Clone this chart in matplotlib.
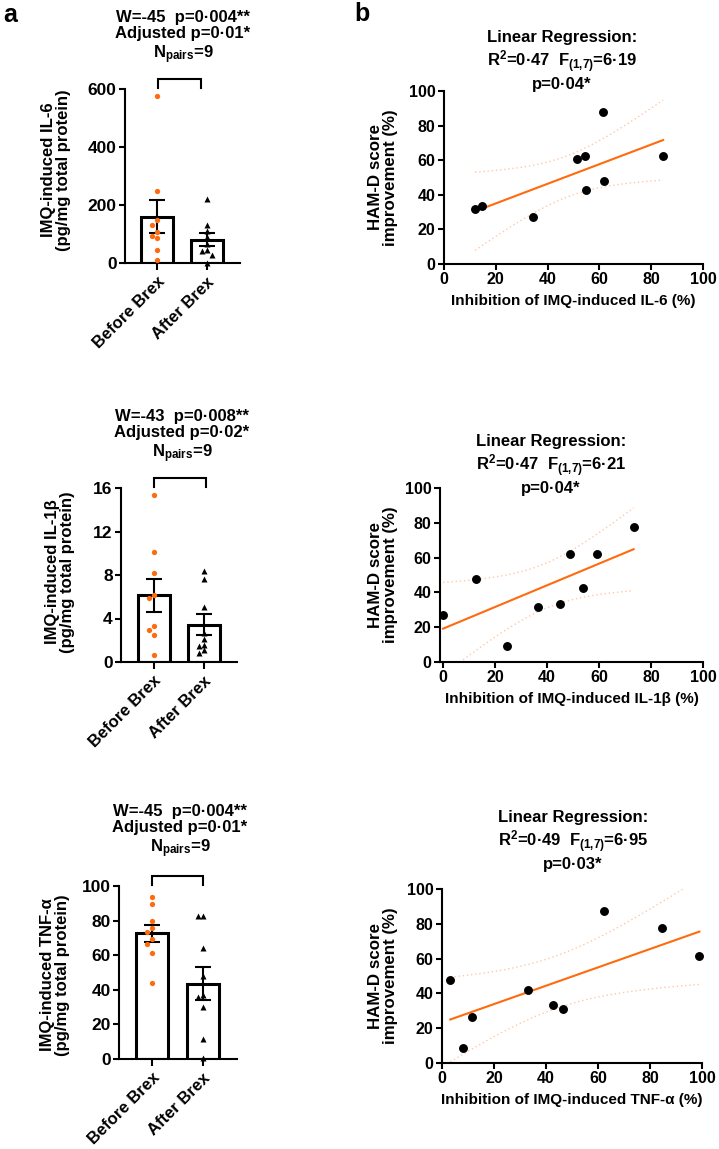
import numpy as np
import matplotlib
matplotlib.use("Agg")
import matplotlib.pyplot as plt

# --- data ---
groups = ["Before Brex", "After Brex"]

il6_before = [575, 247, 147, 132, 106, 94, 86, 45, 11]
il6_after = [221, 130, 109, 90, 65, 45, 40, 28, 0]
il1b_before = [15.4, 10.1, 8.2, 6.2, 5.9, 3.3, 2.9, 2.5, 0.6]
il1b_after = [8.4, 7.6, 5.1, 2.7, 2.1, 1.6, 1.5, 1.1, 0.8]
tnf_before = [93.4, 89.8, 79.8, 75.7, 73.6, 69.2, 66.5, 61.5, 44.1]
tnf_after = [82.7, 82.7, 64.0, 48.0, 37.0, 35.6, 30.2, 11.3, 0.4]

il6_inhib = [12.0, 14.5, 34.4, 51.4, 54.4, 55.0, 61.4, 61.7, 84.6]
il6_hamd = [31.9, 33.8, 27.1, 60.5, 62.4, 42.6, 87.9, 48.2, 62.2]
il1b_inhib = [0.0, 12.8, 24.7, 36.5, 44.9, 49.0, 53.8, 59.2, 73.3]
il1b_hamd = [26.8, 47.9, 9.0, 31.8, 33.5, 62.1, 42.3, 62.1, 77.6]
tnf_inhib = [3.2, 7.9, 11.7, 32.9, 42.7, 46.5, 62.2, 84.7, 99.0]
tnf_hamd = [47.7, 8.7, 26.5, 41.9, 33.3, 31.3, 87.5, 77.3, 61.7]

bar_titles = [
    "W=-45  p=0·004**\nAdjusted p=0·01*\nN$_{pairs}$=9",
    "W=-43  p=0·008**\nAdjusted p=0·02*\nN$_{pairs}$=9",
    "W=-45  p=0·004**\nAdjusted p=0·01*\nN$_{pairs}$=9",
]
bar_ylabels = [
    "IMQ-induced IL-6\n(pg/mg total protein)",
    "IMQ-induced IL-1β\n(pg/mg total protein)",
    "IMQ-induced TNF-α\n(pg/mg total protein)",
]
bar_yticks = [[0, 200, 400, 600], [0, 4, 8, 12, 16], [0, 20, 40, 60, 80, 100]]

reg_titles = [
    "Linear Regression:\nR$^{2}$=0·47  F$_{(1{,}7)}$=6·19\np=0·04*",
    "Linear Regression:\nR$^{2}$=0·47  F$_{(1{,}7)}$=6·21\np=0·04*",
    "Linear Regression:\nR$^{2}$=0·49  F$_{(1{,}7)}$=6·95\np=0·03*",
]
reg_xlabels = [
    "Inhibition of IMQ-induced IL-6 (%)",
    "Inhibition of IMQ-induced IL-1β (%)",
    "Inhibition of IMQ-induced TNF-α (%)",
]

ORANGE = "#FF6A0D"
BAND = "#FFC8A6"
T975_DF7 = 2.3646
FS_TITLE = 12
FS_LABEL = 12
FS_XLAB_B = 11
FS_YLAB_B = 12.2
FS_TICK_A = 12.5
FS_TICK_B = 11.5

plt.rcParams["font.family"] = ["Liberation Sans", "DejaVu Sans"]
plt.rcParams["font.weight"] = "bold"
plt.rcParams["axes.labelweight"] = "bold"
plt.rcParams["mathtext.fontset"] = "custom"
plt.rcParams["mathtext.rm"] = "Liberation Sans:bold"
plt.rcParams["mathtext.it"] = "Liberation Sans:bold"
plt.rcParams["mathtext.bf"] = "Liberation Sans:bold"
plt.rcParams["mathtext.default"] = "rm"

W, H = 719, 1149
fig = plt.figure(figsize=(W / 100, H / 100), dpi=100)


def rect(x0, y_top, x1, y_bot):
    return [x0 / W, 1 - y_bot / H, (x1 - x0) / W, (y_bot - y_top) / H]


def style_axes(ax, tick_size):
    for side in ("top", "right"):
        ax.spines[side].set_visible(False)
    for side in ("left", "bottom"):
        ax.spines[side].set_linewidth(1.5)
    ax.tick_params(width=1.5, length=4, pad=2, labelsize=tick_size)


def bold_ticks(ax):
    for lbl in ax.get_xticklabels() + ax.get_yticklabels():
        lbl.set_fontweight("bold")


def swarm(values, ppu_y, ppu_x=50.0, size=5.0, step=0.1):
    """Simple beeswarm offsets so that close points don't overlap."""
    order = np.argsort(values)[::-1]
    offs = np.zeros(len(values))
    placed = []
    for i in order:
        for cand in (0, -step, step, -2 * step, 2 * step):
            ok = True
            for j in placed:
                d = np.hypot((cand - offs[j]) * ppu_x, (values[i] - values[j]) * ppu_y)
                if d < size:
                    ok = False
                    break
            if ok:
                offs[i] = cand
                break
        placed.append(i)
    return offs


bar_data = [(il6_before, il6_after), (il1b_before, il1b_after), (tnf_before, tnf_after)]
bar_rects = [(125, 89, 240, 263), (121, 488, 237, 662), (119, 886, 237, 1059)]
title_pos = [(183, 38), (182, 437), (180, 832)]
ylabel_pos = [(56, 170), (60, 572), (55, 975)]
bracket_x = [(0.02, 0.88), (0.0, 1.05), (0.0, 1.0)]

for k in range(3):
    before, after = (np.array(v, dtype=float) for v in bar_data[k])
    r = bar_rects[k]
    ax = fig.add_axes(rect(*r))
    top = bar_yticks[k][-1]
    ax.set_ylim(0, top)
    ax.set_xlim(-0.65, 1.67)
    ppu_y = (r[3] - r[1]) / top
    for gi, vals in enumerate((before, after)):
        mean = vals.mean()
        sem = vals.std(ddof=1) / np.sqrt(len(vals))
        ax.bar(gi, mean, width=0.64, facecolor="white", edgecolor="black",
               linewidth=2.2, zorder=1)
        ax.errorbar(gi, mean, yerr=sem, color="black", elinewidth=1.5,
                    capsize=5.5, capthick=1.5, zorder=2)
        offs = swarm(vals, ppu_y)
        if gi == 0:
            ax.plot(gi + offs, vals, "o", color=ORANGE, ms=3.8, mec="none",
                    zorder=3, clip_on=False)
        else:
            ax.plot(gi + offs, vals, "^", color="black", ms=4.0, mec="none",
                    zorder=3, clip_on=False)
    # bracket
    b_top = top + 10 / ppu_y
    b_leg = top + 1 / ppu_y
    x0, x1 = bracket_x[k]
    ax.plot([x0, x0, x1, x1], [b_leg, b_top, b_top, b_leg], color="black",
            lw=1.5, clip_on=False, solid_joinstyle="miter")
    style_axes(ax, FS_TICK_A)
    ax.set_yticks(bar_yticks[k])
    ax.set_xticks([0, 1])
    ax.set_xticklabels(groups, rotation=45, ha="right", rotation_mode="anchor",
                       fontsize=FS_LABEL)
    ax.tick_params(axis="x", length=5, pad=3)
    bold_ticks(ax)
    tx, ty = title_pos[k]
    fig.text(tx / W, 1 - ty / H, bar_titles[k], ha="center", va="center",
             linespacing=1.15, fontsize=FS_TITLE, fontweight="bold")
    lx, ly = ylabel_pos[k]
    fig.text(lx / W, 1 - ly / H, bar_ylabels[k], rotation=90, ha="center",
             va="center", multialignment="center", linespacing=1.05,
             fontsize=FS_LABEL, fontweight="bold")

reg_data = [(il6_inhib, il6_hamd), (il1b_inhib, il1b_hamd), (tnf_inhib, tnf_hamd)]
reg_rects = [(444, 91, 703, 264), (440, 488, 703, 662), (442, 889, 702, 1063)]
reg_xmin = [0, -1.2, 0]
reg_title_pos = [(562, 61), (551, 465), (573, 841)]

for k in range(3):
    x, y = (np.array(v, dtype=float) for v in reg_data[k])
    ax = fig.add_axes(rect(*reg_rects[k]))
    ax.set_xlim(reg_xmin[k], 100)
    ax.set_ylim(0, 100)
    slope, icpt = np.polyfit(x, y, 1)
    xs = np.linspace(x.min(), x.max(), 100)
    fit = icpt + slope * xs
    n = len(x)
    resid = y - (icpt + slope * x)
    s = np.sqrt(np.sum(resid ** 2) / (n - 2))
    sxx = np.sum((x - x.mean()) ** 2)
    half = T975_DF7 * s * np.sqrt(1 / n + (xs - x.mean()) ** 2 / sxx)
    ax.plot(xs, fit + half, ls=(0, (1, 2)), color=BAND, lw=1.0, zorder=1)
    ax.plot(xs, fit - half, ls=(0, (1, 2)), color=BAND, lw=1.0, zorder=1)
    ax.plot(xs, fit, color=ORANGE, lw=1.5, zorder=2)
    ax.plot(x, y, "o", color="black", ms=5.4, zorder=3, clip_on=False)
    style_axes(ax, FS_TICK_B)
    ax.set_xticks([0, 20, 40, 60, 80, 100])
    ax.set_yticks([0, 20, 40, 60, 80, 100])
    bold_ticks(ax)
    ax.set_xlabel(reg_xlabels[k], labelpad=5, fontsize=FS_XLAB_B, fontweight="bold")
    tx, ty = reg_title_pos[k]
    fig.text(tx / W, 1 - ty / H, reg_titles[k], ha="center", va="center",
             linespacing=1.15, fontsize=FS_TITLE, fontweight="bold")
    cy = (reg_rects[k][1] + reg_rects[k][3]) / 2
    fig.text(383 / W, 1 - cy / H, "HAM-D score\nimprovement (%)", rotation=90,
             ha="center", va="center", multialignment="center", linespacing=1.05,
             fontsize=FS_YLAB_B, fontweight="bold")

fig.text(10 / W, 1 - 15 / H, "a", fontsize=18, fontweight="bold", ha="center", va="center")
fig.text(362 / W, 1 - 14 / H, "b", fontsize=18, fontweight="bold", ha="center", va="center")

fig.savefig("out.png", dpi=100)
